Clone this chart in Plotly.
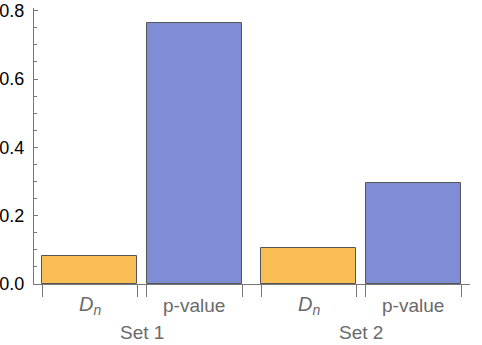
import plotly.graph_objects as go

# ---- data ----
groups = ["Set 1", "Set 2"]
measures = ["<i>D<sub>n</sub></i>", "p-value"]
dn_values = [0.082, 0.106]
p_values = [0.764, 0.296]
y_tickvals = [0.0, 0.2, 0.4, 0.6, 0.8]
y_ticktext = ["0.0", "0.2", "0.4", "0.6", "0.8"]

# ---- layout helpers (bar geometry) ----
bar_w = 1.0
inner_gap = 0.1
group_gap = 0.2
group_w = 2 * bar_w + inner_gap

dn_x, p_x, edges, group_centers = [], [], [], []
for i in range(len(groups)):
    start = i * (group_w + group_gap)
    dn_x.append(start + bar_w / 2)
    p_x.append(start + bar_w + inner_gap + bar_w / 2)
    edges += [start, start + bar_w, start + bar_w + inner_gap, start + group_w]
    group_centers.append(start + group_w / 2)

orange = "#F9BE55"
blue = "#7F8DD4"
edge = "#555555"
axis_col = "#777777"
label_col = "#6a6a6a"
font_fam = "Liberation Sans, Arial, sans-serif"

fig = go.Figure()
fig.add_trace(go.Bar(x=dn_x, y=dn_values, width=bar_w,
                     marker=dict(color=orange, line=dict(color=edge, width=1)),
                     showlegend=False, hoverinfo="y"))
fig.add_trace(go.Bar(x=p_x, y=p_values, width=bar_w,
                     marker=dict(color=blue, line=dict(color=edge, width=1)),
                     showlegend=False, hoverinfo="y"))

annotations = []
for i, g in enumerate(groups):
    annotations.append(dict(x=dn_x[i], y=0, xref="x", yref="paper", text=measures[0],
                            showarrow=False, yanchor="middle", yshift=-21,
                            font=dict(family=font_fam, size=20, color=label_col)))
    annotations.append(dict(x=p_x[i], y=0, xref="x", yref="paper", text=measures[1],
                            showarrow=False, yanchor="middle", yshift=-21,
                            font=dict(family=font_fam, size=19, color=label_col)))
    annotations.append(dict(x=group_centers[i], y=0, xref="x", yref="paper", text=g,
                            showarrow=False, yanchor="middle", yshift=-48,
                            font=dict(family=font_fam, size=19, color=label_col)))

fig.update_layout(
    width=482, height=345,
    margin=dict(l=34, r=12, t=8, b=61, autoexpand=False),
    paper_bgcolor="white", plot_bgcolor="white",
    bargap=0, barmode="overlay",
    annotations=annotations,
    xaxis=dict(range=[-0.084, 4.494], showgrid=False, zeroline=False,
               automargin=False,
               showline=True, linecolor=axis_col, linewidth=1,
               tickmode="array", tickvals=edges, ticks="outside",
               ticklen=12, tickcolor=axis_col, showticklabels=False),
    yaxis=dict(range=[0, 0.808], showgrid=False, zeroline=False,
               automargin=False,
               showline=True, linecolor=axis_col, linewidth=1,
               tickmode="array", tickvals=y_tickvals, ticktext=y_ticktext,
               ticks="inside", ticklen=4, tickcolor=axis_col,
               tickfont=dict(family=font_fam, size=18, color="black"),
               ticklabelstandoff=5,
               minor=dict(dtick=0.05, ticks="inside", ticklen=2.5, tickcolor=axis_col)),
)

fig.write_html("out.html")
